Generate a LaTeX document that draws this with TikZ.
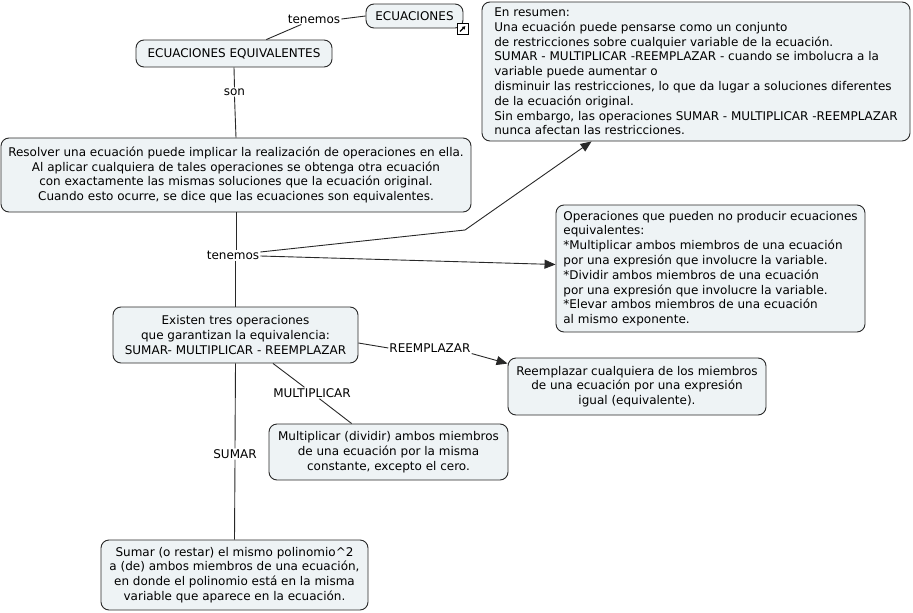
\documentclass[tikz,border=0pt]{standalone}
\usepackage{fontspec}
\setmainfont{DejaVu Sans}
\usetikzlibrary{arrows.meta,calc}
\definecolor{boxfill}{RGB}{238,243,245}
\definecolor{edge}{RGB}{40,40,40}
\begin{document}
\begin{tikzpicture}[x=1pt,y=-1pt,
  concept/.style={draw=edge,fill=boxfill,rounded corners=8pt,line width=0.9pt,inner sep=2pt,font=\fontsize{12}{14.8}\selectfont},
  lab/.style={inner sep=1pt,font=\fontsize{12}{14.8}\selectfont},
  link/.style={draw=edge,line width=0.9pt},
  arr/.style={link,-{Triangle[length=11pt,width=9pt]}}]
\useasboundingbox (0,0) rectangle (913,613);
% concepts
\node[concept,minimum width=97pt,minimum height=24pt] (ecu) at (414.5,16) {ECUACIONES};
\node[concept,minimum width=196pt,minimum height=27pt] (eqv) at (234,53.5) {ECUACIONES EQUIVALENTES};
\node[concept,minimum width=470pt,minimum height=74pt,align=center] (res) at (236,175)
 {Resolver una ecuación puede implicar la realización de operaciones en ella.\\
  Al aplicar cualquiera de tales operaciones se obtenga otra ecuación\\
  con exactamente las mismas soluciones que la ecuación original.\\
  Cuando esto ocurre, se dice que las ecuaciones son equivalentes.};
\node[concept,minimum width=428pt,minimum height=139pt,align=left] (summ) at (696,71.5)
 {En resumen:\\
  Una ecuación puede pensarse como un conjunto\\
  de restricciones sobre cualquier variable de la ecuación.\\
  SUMAR - MULTIPLICAR -REEMPLAZAR - cuando se imbolucra a la\\
  variable puede aumentar o\\
  disminuir las restricciones, lo que da lugar a soluciones diferentes\\
  de la ecuación original.\\
  Sin embargo, las operaciones SUMAR - MULTIPLICAR -REEMPLAZAR\\
  nunca afectan las restricciones.};
\node[concept,minimum width=309pt,minimum height=127pt,align=left] (oper) at (710.5,268.5)
 {Operaciones que pueden no producir ecuaciones\\
  equivalentes:\\
  *Multiplicar ambos miembros de una ecuación\\
  por una expresión que involucre la variable.\\
  *Dividir ambos miembros de una ecuación\\
  por una expresión que involucre la variable.\\
  *Elevar ambos miembros de una ecuación\\
  al mismo exponente.};
\node[concept,minimum width=245pt,minimum height=56pt,align=center] (exist) at (235.5,335)
 {Existen tres operaciones\\
  que garantizan la equivalencia:\\
  SUMAR- MULTIPLICAR - REEMPLAZAR};
\node[concept,minimum width=258pt,minimum height=57pt,align=center] (reem) at (637,386.5)
 {Reemplazar cualquiera de los miembros\\
  de una ecuación por una expresión\\
  igual (equivalente).};
\node[concept,minimum width=239pt,minimum height=56pt,align=center] (mult) at (388.5,452)
 {Multiplicar (dividir) ambos miembros\\
  de una ecuación por la misma\\
  constante, excepto el cero.};
\node[concept,minimum width=267pt,minimum height=70pt,align=center] (sum) at (234.5,575)
 {Sumar (o restar) el mismo polinomio\^{}2\\
  a (de) ambos miembros de una ecuación,\\
  en donde el polinomio está en la misma\\
  variable que aparece en la ecuación.};
% link labels
\node[lab] (ten1) at (314,19) {tenemos};
\node[lab] (son) at (234.5,92) {son};
\node[lab] (ten2) at (233,255) {tenemos};
\node[lab] (rlab) at (430,348) {REEMPLAZAR};
\node[lab] (mlab) at (312,393) {MULTIPLICAR};
\node[lab] (slab) at (235,454) {SUMAR};
\coordinate (bend) at (465,230);
% connectors
\draw[link] (ecu.west) -- (ten1.east);
\draw[link] (ten1) -- (eqv);
\draw[link] (eqv.south) -- (son.north);
\draw[link] (son.south) -- (res.north);
\draw[link] (res.south) -- (res.south |- ten2.north);
\draw[arr] ([yshift=3pt]ten2.east) -- (bend) -- ([xshift=110pt]summ.south west);
\draw[arr] ([yshift=-1pt]ten2.east) -- ([yshift=4pt]oper.west);
\draw[link] (exist.north |- ten2.south) -- (exist.north);
\draw[link] ([yshift=-8pt]exist.east) -- (rlab.west);
\draw[arr] (rlab.south east) -- ([yshift=-6pt]reem.north west);
\draw[link] (exist) -- (mlab);
\draw[link] (mlab) -- (mult);
\draw[link] (exist.south) -- (slab.north);
\draw[link] (slab.south) -- (sum.north);
% link icon
\node[draw=black,fill=white,line width=0.8pt,minimum size=11pt,inner sep=0pt] (icon) at (462.5,29) {};
\draw[line width=1.3pt,-{Triangle[length=3pt,width=3.5pt]}] ([shift={(-2.5pt,-2.5pt)}]icon.center) -- ([shift={(2.8pt,2.8pt)}]icon.center);
\end{tikzpicture}
\end{document}
